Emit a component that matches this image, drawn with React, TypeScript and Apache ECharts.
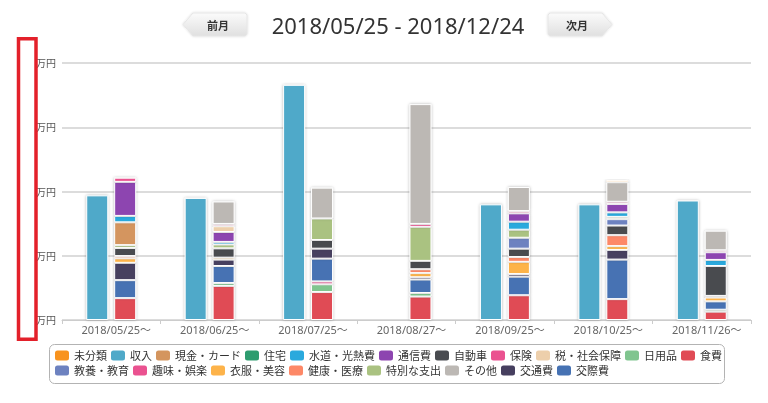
import React, { useEffect, useRef } from "react";
import * as echarts from "echarts";

const categories = ["2018/05/25～", "2018/06/25～", "2018/07/25～", "2018/08/27～", "2018/09/25～", "2018/10/25～", "2018/11/26～"];
const yTickLabel = "万円";
const income = [19.4, 19.0, 36.6, 0, 18.0, 18.0, 18.6];

// expense series, bottom to top of the stack
const shokuhi = [3.4, 5.3, 4.35, 3.65, 3.85, 3.25, 1.3];
const nichiyohin = [0, 0.45, 1.2, 0.55, 0, 0, 0.3];
const shumi = [0, 0, 0.45, 0, 0, 0, 0];
const kosaihi = [2.8, 2.65, 3.55, 2.1, 2.9, 6.15, 1.3];
const kotsuhi = [2.7, 1.0, 1.55, 0.35, 0.4, 1.5, 0];
const ifuku = [0.7, 0.3, 0, 0.65, 1.9, 0.6, 0.6];
const kenko = [0.35, 0, 0, 0.6, 0.75, 1.7, 0.25];
const jidosha = [1.25, 1.45, 1.35, 1.3, 1.3, 1.5, 4.65];
const kyoyo = [0, 0, 0, 0, 1.7, 1.0, 0];
const tokubetsu = [0.45, 0.6, 3.35, 5.3, 1.25, 0.35, 0];
const genkin = [3.55, 0, 0, 0, 0, 0, 0];
const jutaku = [0, 0, 0, 0, 0, 0, 0];
const suido = [1.0, 0.4, 0, 0, 1.25, 0.7, 0.95];
const tsushin = [5.3, 1.55, 0, 0, 1.3, 1.3, 1.2];
const zei = [0, 0.9, 0, 0, 0, 0, 0];
const hoken = [0.65, 0.35, 0, 0.45, 0.35, 0.35, 0.3];
const sonota = [0, 3.5, 4.8, 18.65, 3.75, 3.05, 3.05];
const mibunrui = [0, 0, 0, 0, 0, 0.35, 0];

const expenseSeries: [string, number[], string][] = [
  ["食費", shokuhi, "#e04b55"],
  ["日用品", nichiyohin, "#80c58f"],
  ["趣味・娯楽", shumi, "#ea5290"],
  ["交際費", kosaihi, "#4672b3"],
  ["交通費", kotsuhi, "#463f5f"],
  ["衣服・美容", ifuku, "#fdb34a"],
  ["健康・医療", kenko, "#fd8867"],
  ["自動車", jidosha, "#494b50"],
  ["教養・教育", kyoyo, "#6d82c0"],
  ["特別な支出", tokubetsu, "#aac281"],
  ["現金・カード", genkin, "#d4955e"],
  ["住宅", jutaku, "#2e9c6f"],
  ["水道・光熱費", suido, "#2aa9dd"],
  ["通信費", tsushin, "#8d45b0"],
  ["税・社会保障", zei, "#edcfab"],
  ["保険", hoken, "#ea5290"],
  ["その他", sonota, "#bcb8b4"],
  ["未分類", mibunrui, "#f8931f"],
];
const incomeColor = "#4fa9c9";

const legendOrder = ["未分類", "収入", "現金・カード", "住宅", "水道・光熱費", "通信費", "自動車", "保険", "税・社会保障", "日用品", "食費", "教養・教育", "趣味・娯楽", "衣服・美容", "健康・医療", "特別な支出", "その他", "交通費", "交際費"];

const FONT = "'Noto Sans', 'Noto Sans CJK JP', sans-serif";

export default function App() {
  const ref = useRef<HTMLDivElement>(null);
  useEffect(() => {
    if (!ref.current) return;
    const chart = echarts.init(ref.current, undefined, { renderer: "svg" });
    const barStyle = (color: string) => ({
      color,
      borderColor: "#fff",
      borderWidth: 1,
      shadowBlur: 3,
      shadowColor: "rgba(0,0,0,0.3)",
    });
    const series: any[] = [
      {
        name: "収入",
        type: "bar",
        stack: "income",
        barWidth: 22,
        barGap: "27%",
        data: income.map((v) => (v ? v : null)),
        itemStyle: barStyle(incomeColor),
      },
      ...expenseSeries.map(([name, data, color]) => ({
        name,
        type: "bar",
        stack: "expense",
        barWidth: 22,
        barGap: "27%",
        data: data.map((v) => (v ? v : null)),
        itemStyle: barStyle(color),
      })),
    ];
    chart.setOption({
      animation: false,
      textStyle: { fontFamily: FONT },
      grid: { left: 62, right: 17, top: 63, bottom: 83 },
      xAxis: {
        type: "category",
        data: categories,
        axisLine: { lineStyle: { color: "#cccccc" } },
        axisTick: { show: true, length: 4, lineStyle: { color: "#cccccc" } },
        axisLabel: { color: "#666", fontSize: 11, margin: 4, padding: [0, 0, 0, 10], fontFamily: FONT },
      },
      yAxis: {
        type: "value",
        min: 0,
        max: 40,
        interval: 10,
        axisLine: { show: false },
        axisTick: { show: false },
        axisLabel: { color: "#555", fontSize: 10, margin: 6, formatter: () => yTickLabel, fontFamily: FONT },
        splitLine: { lineStyle: { color: "#dcdcdc", width: 2 } },
      },
      legend: {
        data: legendOrder,
        left: 55,
        top: 350,
        width: 670,
        padding: 0,
        itemGap: 4,
        itemWidth: 14,
        itemHeight: 10,
        icon: "roundRect",
        itemStyle: { borderWidth: 0, shadowBlur: 0 },
        textStyle: { fontSize: 11, color: "#333", fontFamily: FONT },
      },
      graphic: [
        {
          type: "rect",
          shape: { x: 18.5, y: 38.75, width: 17.5, height: 300.5 },
          style: { fill: "#fff", stroke: "#e3202a", lineWidth: 3.5 },
          z: 100,
        },
        {
          type: "rect",
          shape: { x: 49.5, y: 344.5, width: 675, height: 39, r: 5 },
          style: { fill: "none", stroke: "#b3b3b3", lineWidth: 1 },
        },
        {
          type: "polygon",
          shape: { points: [[183, 24.5], [193, 13], [245, 13], [247, 15], [247, 34], [245, 36], [193, 36]] },
          style: {
            fill: new echarts.graphic.LinearGradient(0, 0, 0, 1, [
              { offset: 0, color: "#fbfbfb" },
              { offset: 1, color: "#e0e0e0" },
            ]),
            stroke: "#e6e6e6",
            lineWidth: 1,
            shadowBlur: 2,
            shadowColor: "rgba(0,0,0,0.15)",
          },
        },
        {
          type: "text",
          x: 218,
          y: 25,
          style: { text: "前月", fontSize: 11, fontWeight: "bold", fill: "#333", align: "center", verticalAlign: "middle", fontFamily: FONT },
        },
        {
          type: "polygon",
          shape: { points: [[548, 15], [550, 13], [602, 13], [612, 24.5], [602, 36], [550, 36], [548, 34]] },
          style: {
            fill: new echarts.graphic.LinearGradient(0, 0, 0, 1, [
              { offset: 0, color: "#fbfbfb" },
              { offset: 1, color: "#e0e0e0" },
            ]),
            stroke: "#e6e6e6",
            lineWidth: 1,
            shadowBlur: 2,
            shadowColor: "rgba(0,0,0,0.15)",
          },
        },
        {
          type: "text",
          x: 577,
          y: 25,
          style: { text: "次月", fontSize: 11, fontWeight: "bold", fill: "#333", align: "center", verticalAlign: "middle", fontFamily: FONT },
        },
        {
          type: "text",
          x: 398,
          y: 25,
          style: { text: "2018/05/25 - 2018/12/24", fontSize: 22, fill: "#333", align: "center", verticalAlign: "middle", fontFamily: FONT },
        },
      ],
      series,
    });
    return () => chart.dispose();
  }, []);
  return <div ref={ref} style={{ position: "fixed", left: 0, top: 0, width: 768, height: 403 }} />;
}
